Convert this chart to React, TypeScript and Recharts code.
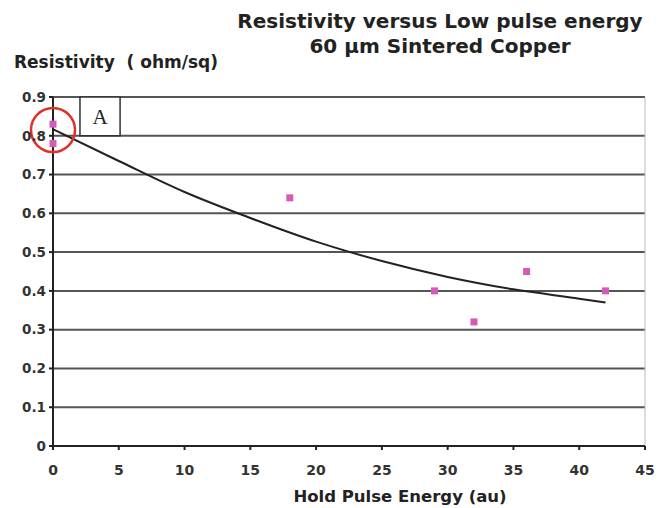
import React from "react";
import {
  ComposedChart,
  Scatter,
  Line,
  XAxis,
  YAxis,
  CartesianGrid,
  ReferenceLine,
  ReferenceArea,
  ReferenceDot,
} from "recharts";

// measured points (hold pulse energy, resistivity)
const energy = [0, 0, 18, 29, 32, 36, 42];
const resistivity = [0.83, 0.78, 0.64, 0.4, 0.32, 0.45, 0.4];

// trend line
const trendEnergy = [0, 5, 10, 15, 20, 25, 30, 35, 40, 42];
const trendValue = [0.817, 0.735, 0.655, 0.588, 0.527, 0.477, 0.436, 0.404, 0.38, 0.37];

const xTicks = [0, 5, 10, 15, 20, 25, 30, 35, 40, 45];
const yTicks = [0, 0.1, 0.2, 0.3, 0.4, 0.5, 0.6, 0.7, 0.8, 0.9];

const points = energy.map((x, i) => ({ x, y: resistivity[i] }));
const trend = trendEnergy.map((x, i) => ({ x, t: trendValue[i] }));

const FONT = "'DejaVu Sans', Verdana, sans-serif";

const Square = (props: any) => {
  const { cx, cy } = props;
  return <rect x={cx - 3.5} y={cy - 3.5} width={7} height={7} fill="#d65bb8" />;
};

export default function App() {
  return (
    <div style={{ position: "absolute", left: 0, top: 0, width: 670, height: 508, background: "#fff", fontFamily: FONT }}>
      <div style={{ position: "absolute", left: 190, width: 500, top: 9, textAlign: "center", fontWeight: "bold", fontSize: 20, lineHeight: "25px", color: "#222" }}>
        Resistivity versus Low pulse energy
        <br />
        60 µm Sintered Copper
      </div>
      <div style={{ position: "absolute", left: 14, top: 52, fontWeight: "bold", fontSize: 17, color: "#222", whiteSpace: "pre" }}>
        {"Resistivity  ( ohm/sq)"}
      </div>
      <div style={{ position: "absolute", left: 200, width: 400, top: 487, textAlign: "center", fontWeight: "bold", fontSize: 16.5, color: "#222" }}>
        Hold Pulse Energy (au)
      </div>
      <ComposedChart
        width={670}
        height={508}
        margin={{ top: 97, right: 25, bottom: 28, left: 0 }}
        style={{ position: "absolute", left: 0, top: 0 }}
      >
        <CartesianGrid vertical={false} stroke="#555" strokeWidth={2} horizontalValues={yTicks} />
        <ReferenceLine x={45} stroke="#bbb" strokeWidth={1} />
        <XAxis
          type="number"
          dataKey="x"
          domain={[0, 45]}
          ticks={xTicks}
          stroke="#222"
          strokeWidth={2}
          tickSize={4}
          tickMargin={15}
          tick={{ fill: "#333", fontSize: 14, fontWeight: "bold", fontFamily: FONT }}
          height={34}
        />
        <YAxis
          type="number"
          domain={[0, 0.9]}
          ticks={yTicks}
          stroke="#222"
          strokeWidth={2}
          tickSize={4}
          tickMargin={3}
          width={53}
          tick={{ fill: "#333", fontSize: 13.5, fontWeight: "bold", fontFamily: FONT }}
        />
        <ReferenceArea
          x1={2.05}
          x2={5.1}
          y1={0.8}
          y2={0.9}
          fill="#fff"
          fillOpacity={1}
          stroke="#333"
          strokeWidth={1.5}
          label={{ value: "A", position: "center", fill: "#222", fontSize: 21, fontFamily: "'Liberation Serif', serif" }}
        />
        <Line
          data={trend}
          dataKey="t"
          type="monotone"
          stroke="#222"
          strokeWidth={2}
          dot={false}
          isAnimationActive={false}
        />
        <Scatter data={points} dataKey="y" shape={<Square />} isAnimationActive={false} />
        <ReferenceDot x={0} y={0.815} r={22} fill="none" stroke="#e0302a" strokeWidth={2.5} ifOverflow="visible" />
      </ComposedChart>
    </div>
  );
}
